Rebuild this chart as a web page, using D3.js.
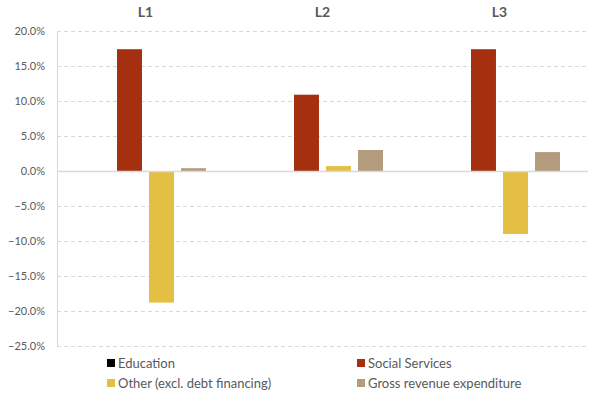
<!DOCTYPE html>
<html>
<head>
<meta charset="utf-8">
<script src="https://cdn.jsdelivr.net/npm/d3@7"></script>
<style>
  body { margin: 0; background: #fff; }
  svg { display: block; font-family: "Lato", "Open Sans", sans-serif; }
</style>
</head>
<body>
<div id="chart"></div>
<script>
// data
var categories = ["L1", "L2", "L3"];
var seriesNames = ["Education", "Social Services", "Other (excl. debt financing)", "Gross revenue expenditure"];
var seriesColors = ["#000000", "#A5300F", "#E3C043", "#B29C7D"];
var education = [0, 0, 0];
var socialServices = [17.4, 10.9, 17.4];
var other = [-18.8, 0.7, -9.0];
var grossRevenue = [0.4, 3.0, 2.7];
var yTicks = [20, 15, 10, 5, 0, -5, -10, -15, -20, -25];

var values = [education, socialServices, other, grossRevenue];

var width = 602, height = 394;
var plot = { left: 57, right: 588, top: 31, bottom: 346 };

var svg = d3.select("#chart").append("svg")
    .attr("width", width)
    .attr("height", height);

var x = d3.scaleBand().domain(categories).range([plot.left, plot.right]);
var xs = d3.scaleBand().domain(d3.range(seriesNames.length))
    .range([0, x.bandwidth()])
    .paddingInner(0.22)
    .paddingOuter(0.875);
var y = d3.scaleLinear().domain([-25, 20]).range([plot.bottom, plot.top]);

// gridlines
svg.append("g").selectAll("line")
    .data(yTicks.filter(function (d) { return d !== 0; }))
    .join("line")
    .attr("x1", plot.left).attr("x2", plot.right)
    .attr("y1", function (d) { return Math.round(y(d)) + 0.5; })
    .attr("y2", function (d) { return Math.round(y(d)) + 0.5; })
    .attr("stroke", "#d9d9d9")
    .attr("stroke-width", 1)
    .attr("stroke-dasharray", "4,3");

// y axis labels
svg.append("g").selectAll("text")
    .data(yTicks)
    .join("text")
    .attr("x", 45)
    .attr("y", function (d) { return y(d); })
    .attr("dy", "0.35em")
    .attr("text-anchor", "end")
    .attr("fill", "#595959")
    .style("font-size", "11px")
    .text(function (d) { return d3.format(".1f")(d) + "%"; });

// bars
var groups = svg.append("g").selectAll("g")
    .data(categories)
    .join("g")
    .attr("transform", function (d) { return "translate(" + x(d) + ",0)"; });

groups.selectAll("rect")
    .data(function (c, ci) {
        return values.map(function (s, si) { return { series: si, value: s[ci] }; });
    })
    .join("rect")
    .attr("x", function (d) { return xs(d.series); })
    .attr("width", xs.bandwidth())
    .attr("y", function (d) { return y(Math.max(0, d.value)); })
    .attr("height", function (d) { return Math.abs(y(d.value) - y(0)); })
    .attr("fill", function (d) { return seriesColors[d.series]; });

// axis lines
svg.append("line")
    .attr("x1", plot.left + 0.5).attr("x2", plot.left + 0.5)
    .attr("y1", plot.top).attr("y2", plot.bottom)
    .attr("stroke", "#d9d9d9");
svg.append("line")
    .attr("x1", plot.left).attr("x2", plot.right)
    .attr("y1", Math.round(y(0)) + 0.5).attr("y2", Math.round(y(0)) + 0.5)
    .attr("stroke", "#d9d9d9")
    .attr("stroke-width", 1.5);

// category labels on top
svg.append("g").selectAll("text")
    .data(categories)
    .join("text")
    .attr("x", function (d) { return x(d) + x.bandwidth() / 2; })
    .attr("y", 17)
    .attr("text-anchor", "middle")
    .attr("fill", "#595959")
    .style("font-size", "14px")
    .style("font-weight", "bold")
    .text(function (d) { return d; });

// legend
var legendPos = [[107, 363], [357, 363], [107, 383], [357, 383]];
var legend = svg.append("g").selectAll("g")
    .data(seriesNames)
    .join("g")
    .attr("transform", function (d, i) { return "translate(" + legendPos[i][0] + "," + legendPos[i][1] + ")"; });

legend.append("rect")
    .attr("x", 0).attr("y", -4)
    .attr("width", 8).attr("height", 8)
    .attr("fill", function (d, i) { return seriesColors[i]; });

legend.append("text")
    .attr("x", 11)
    .attr("dy", "0.35em")
    .attr("fill", "#595959")
    .style("font-size", "13px")
    .text(function (d) { return d; });
</script>
</body>
</html>
